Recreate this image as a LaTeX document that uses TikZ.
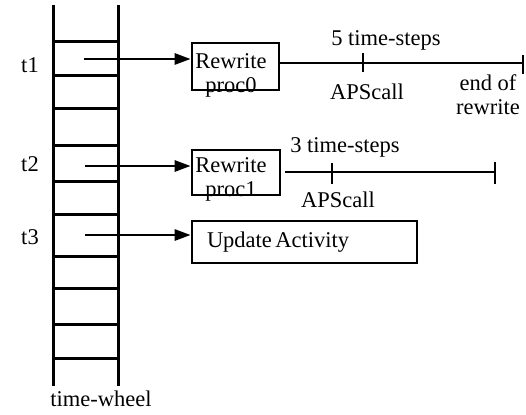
\documentclass[tikz,border=0pt]{standalone}
\usepackage{fontspec}
\setmainfont{Liberation Serif}
\usetikzlibrary{arrows.meta}
\begin{document}
\begin{tikzpicture}[x=1pt,y=-1pt,
  line cap=butt,
  txt/.style={inner sep=0pt,font=\fontsize{22.5}{24}\selectfont},
  box/.style={draw,line width=2.6pt,inner sep=0pt},
  arr/.style={line width=2.6pt,-{Triangle[length=16pt,width=11pt]}},
  wheel/.style={line width=3pt},
  tl/.style={line width=2.6pt},
  tick/.style={line width=2.6pt}]
\useasboundingbox (0,0) rectangle (526,414);

% time-wheel: two rails and the slot separators
\draw[wheel] (53,5) -- (53,386);
\draw[wheel] (118,5) -- (118,386);
\foreach \yy in {42,76,109,145,181,214,256,288,324,358}
  \draw[wheel] (53,\yy) -- (118,\yy);
\node[txt] (wl) at (101,399) {time-wheel};

% slot labels
\node[txt] (t1) at (30,65) {t1};
\node[txt] (t2) at (30,164) {t2};
\node[txt] (t3) at (30,237) {t3};

% event boxes
\node[box,minimum width=87pt,minimum height=47pt] (b0) at (235.5,66.5) {};
\node[txt,align=center] (b0t) at (231,75) {Rewrite\\proc0};
\node[box,minimum width=88pt,minimum height=45pt] (b1) at (236,172.5) {};
\node[txt,align=center] (b1t) at (231,179) {Rewrite\\proc1};
\node[box,minimum width=225pt,minimum height=42pt,text width=195pt,align=left] (b2) at (304.5,242) {\fontsize{22.5}{24}\selectfont Update Activity};

% pointers from the wheel slots
\coordinate (s1) at (84,59);
\coordinate (s2) at (85,166);
\coordinate (s3) at (85,235);
\draw[arr] (s1) -- (s1 -| b0.west);
\draw[arr] (s2) -- (s2 -| b1.west);
\draw[arr] (s3) -- (s3 -| b2.west);

% time line of proc0
\coordinate (e0) at (523,63);
\coordinate (a0) at (363,63);
\draw[tl] (b0.east |- e0) -- (e0);
\draw[tick] ([yshift=-9pt]a0) -- ([yshift=10pt]a0);
\draw[tick] ([yshift=-11pt]e0) -- ([yshift=8pt]e0);
\node[txt] (n5) at (386,40) {5 time-steps};
\node[txt] (ap0) at (367,92) {APScall};
\node[txt,align=center] (eor) at (488,95) {end of\\rewrite};

% time line of proc1
\coordinate (e1) at (495,172);
\coordinate (a1) at (332,172);
\draw[tl] ([xshift=4pt]b1.east |- e1) -- (e1);
\draw[tick] ([yshift=-12pt]a1) -- ([yshift=9pt]a1);
\draw[tick] ([yshift=-12pt]e1) -- ([yshift=10pt]e1);
\node[txt] (n3) at (345,147) {3 time-steps};
\node[txt] (ap1) at (338,200) {APScall};
\end{tikzpicture}
\end{document}
